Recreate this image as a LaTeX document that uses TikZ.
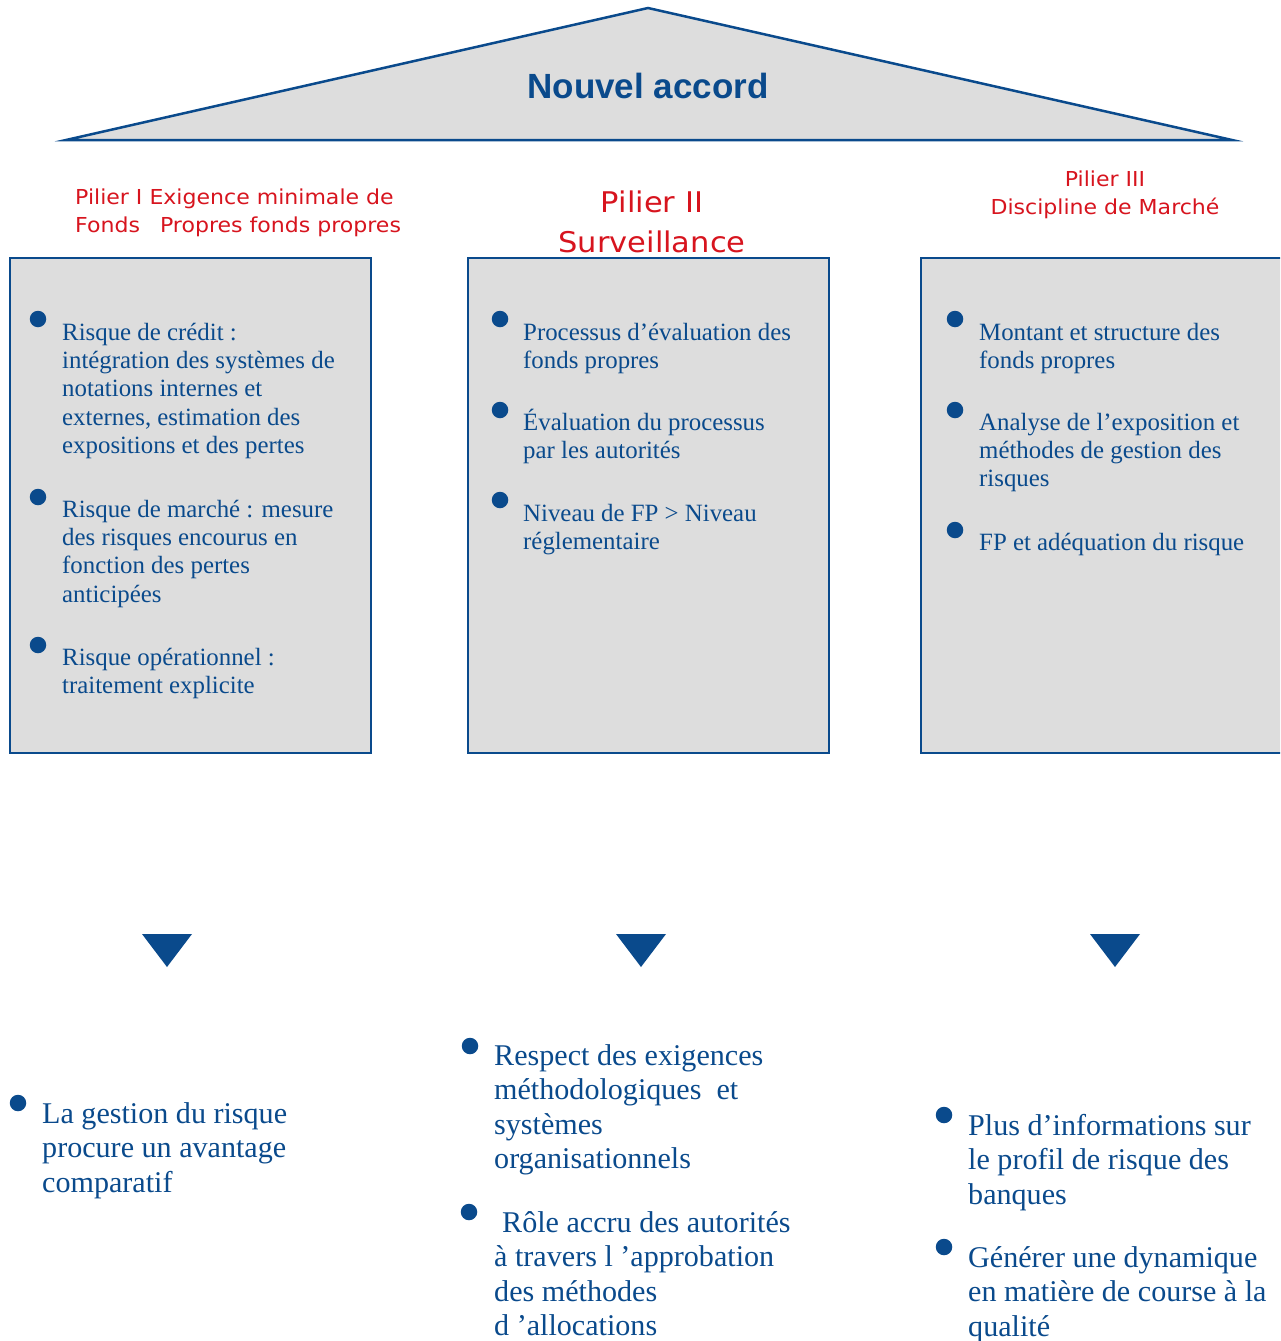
\documentclass[tikz,border=0pt]{standalone}
\usepackage{fontspec}
\setmainfont{Liberation Serif}
\newfontfamily\arialf{Liberation Sans}
\newfontfamily\redf[FakeStretch=1.07]{DejaVu Sans}
\definecolor{nblue}{HTML}{0A4A8C}
\definecolor{panelgray}{HTML}{DDDDDD}
\definecolor{pred}{HTML}{D7141E}
\newcommand\lns[1]{\parbox[t]{600pt}{#1}}
\tikzset{
  panel/.style={draw=nblue, line width=2pt, fill=panelgray},
  dot/.style={circle, fill=nblue, minimum size=16.5pt, inner sep=0pt},
  boxtxt/.style={anchor=base west, inner sep=0pt, text=nblue, font=\fontsize{24.85}{28.4}\selectfont},
  bigtxt/.style={anchor=base west, inner sep=0pt, text=nblue, font=\fontsize{30.1}{34.5}\selectfont},
  redsmall/.style={inner sep=0pt, text=pred, font=\redf\fontsize{20.6}{28}\selectfont},
  redbig/.style={inner sep=0pt, text=pred, font=\redf\fontsize{28.5}{40}\selectfont},
  arrowtri/.style={fill=nblue}
}
\begin{document}
\begin{tikzpicture}[x=1pt,y=-1pt]
\useasboundingbox (0,0) rectangle (1280,1341);
\clip (0,0) rectangle (1280,1341);
% roof
\coordinate (apex) at (648,8);
\coordinate (rl) at (66,140);
\coordinate (rr) at (1232,140);
\draw[draw=nblue, line width=2.5pt, fill=panelgray, line join=miter] (rl) -- (apex) -- (rr) -- cycle;
\node[anchor=base, inner sep=0pt, text=nblue, font=\arialf\bfseries\fontsize{35}{40}\selectfont] (title) at (648,98) {Nouvel accord};

% pillar labels
\node[redsmall, anchor=base west] (p1a) at (75,204) {Pilier I Exigence minimale de};
\node[redsmall, anchor=base west] (p1b) at (75,232) {Fonds\hspace{20pt}Propres fonds propres};
\node[redbig, anchor=base] (p2a) at (652,212) {Pilier II};
\node[redbig, anchor=base] (p2b) at (652,252) {Surveillance};
\node[redsmall, anchor=base] (p3a) at (1105,186) {Pilier III};
\node[redsmall, anchor=base] (p3b) at (1105,214) {Discipline de Marché};

% panels
\path[panel] (10,258) rectangle (371,753);
\path[panel] (468,258) rectangle (829,753);
\path[panel] (921,258) rectangle (1300,753);

% panel 1
\node[dot] (d11) at (38,319) {};
\node[boxtxt] (t11) at (62,340) {\lns{Risque de crédit :\\intégration des systèmes de\\notations internes et\\externes, estimation des\\expositions et des pertes}};
\node[dot] (d12) at (38,497) {};
\node[boxtxt] (t12) at (62,517) {\lns{Risque de marché : mesure\\des risques encourus en\\fonction des pertes\\anticipées}};
\node[dot] (d13) at (38,645) {};
\node[boxtxt] (t13) at (62,665) {\lns{Risque opérationnel :\\traitement explicite}};

% panel 2
\node[dot] (d21) at (500,319) {};
\node[boxtxt] (t21) at (523,340) {\lns{Processus d’évaluation des\\fonds propres}};
\node[dot] (d22) at (500,410) {};
\node[boxtxt] (t22) at (523,430) {\lns{Évaluation du processus\\par les autorités}};
\node[dot] (d23) at (500,500) {};
\node[boxtxt] (t23) at (523,521) {\lns{Niveau de FP > Niveau\\réglementaire}};

% panel 3
\node[dot] (d31) at (955,319) {};
\node[boxtxt] (t31) at (979,340) {\lns{Montant et structure des\\fonds propres}};
\node[dot] (d32) at (955,410) {};
\node[boxtxt] (t32) at (979,430) {\lns{Analyse de l’exposition et\\méthodes de gestion des\\risques}};
\node[dot] (d33) at (955,530) {};
\node[boxtxt] (t33) at (979,550) {\lns{FP et adéquation du risque}};

% down triangles
\fill[arrowtri] (142,934) -- (192,934) -- (167,967) -- cycle;
\fill[arrowtri] (616,934) -- (666,934) -- (641,967) -- cycle;
\fill[arrowtri] (1090,934) -- (1140,934) -- (1115,967) -- cycle;

% bottom texts
\node[dot] (e11) at (18,1103) {};
\node[bigtxt] (u11) at (42,1123) {\lns{La gestion du risque\\procure un avantage\\comparatif}};

\node[dot] (e21) at (470,1046) {};
\node[bigtxt] (u21) at (494,1065) {\lns{Respect des exigences\\méthodologiques\ \ et\\systèmes\\organisationnels}};
\node[dot] (e22) at (469,1212) {};
\node[bigtxt] (u22) at (494,1232) {\lns{\hspace{8pt}Rôle accru des autorités\\à travers l ’approbation\\des méthodes\\d ’allocations}};

\node[dot] (e31) at (944,1115) {};
\node[bigtxt] (u31) at (968,1135) {\lns{Plus d’informations sur\\le profil de risque des\\banques}};
\node[dot] (e32) at (944,1247) {};
\node[bigtxt] (u32) at (968,1267) {\lns{Générer une dynamique\\en matière de course à la\\qualité}};
\end{tikzpicture}
\end{document}
